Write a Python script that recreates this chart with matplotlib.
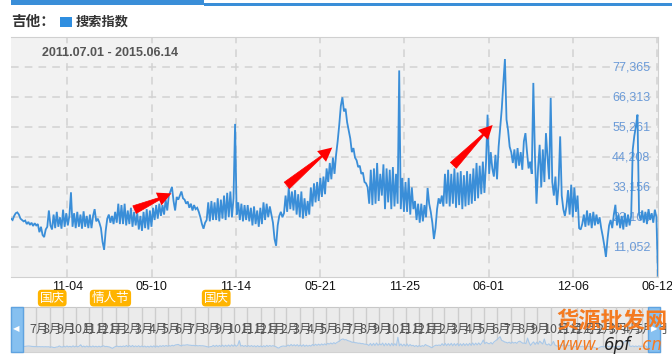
import numpy as np, pandas as pd
import matplotlib; matplotlib.use("Agg")
import matplotlib.pyplot as plt
from matplotlib.patches import Rectangle

W, H = 672, 363
CJK = ["Noto Sans CJK SC", "DejaVu Sans"]
LAT = ["Liberation Sans", "DejaVu Sans"]
BLUE = "#3a8ed8"

# search index for "吉他", 2011.07.01 - 2015.06.14, one value every ~3.5 days (thousands)
start, end = "2011-07-01", "2015-06-14"
idx_k = [
    21.5, 21, 22.5, 23.5, 23.8, 23, 21.5, 21, 20.5, 20.8,
    19.5, 20.3, 19.2, 20, 18.8, 19.8, 19, 19.5, 16.5, 18.5,
    15.5, 14.7, 17.5, 18.5, 24.5, 19, 17.5, 23, 18, 24,
    18.5, 22, 17.8, 24.8, 18.5, 23.5, 19, 22.5, 31.2, 18.5,
    23.5, 18, 24, 18.5, 23, 17.8, 24.2, 18.5, 22.5, 18,
    23, 18, 22.5, 25, 20.5, 21.5, 20, 18, 13, 10,
    17, 21.5, 23, 20, 22.5, 19.5, 24, 20, 27, 19.5,
    26.5, 19.5, 27, 19, 24.5, 19.5, 25.5, 18.5, 24, 19,
    23.5, 17.5, 22.5, 17, 24, 18, 25, 17.5, 24.5, 18.5,
    25.5, 21, 26.5, 21.5, 27, 22.5, 26.5, 23, 28.5, 24.5,
    30, 31.5, 33.2, 28, 24.5, 29.5, 28.5, 30, 31.5, 29,
    28.5, 27, 27.8, 25.5, 27, 24.5, 26.5, 25, 25.5, 24,
    22, 19.5, 17.8, 20, 21, 27.5, 20.5, 28, 21, 27.5,
    21, 29, 20.5, 28.5, 21.5, 30, 21, 31, 22, 31.5,
    22, 29, 56.4, 23, 27.5, 21, 27, 20.5, 26.5, 21,
    26.5, 20.5, 25.5, 19, 26, 19.5, 24.5, 18.5, 25.5, 19.5,
    27.5, 21, 27, 22, 26, 23, 20, 14, 11.5, 19,
    22.5, 24, 22, 23.5, 30, 24, 33, 25, 31.5, 24.5,
    32, 23, 30.5, 22, 31.5, 21.5, 29, 22.5, 28, 23,
    33, 26, 34.5, 27.5, 35, 28, 36.5, 29.5, 37, 30.5,
    40, 35, 42, 36, 44, 38, 45, 50, 56, 63,
    66.2, 61, 62, 57, 54, 51, 46, 47.5, 44, 43,
    40.5, 41, 38, 38.5, 35, 34.5, 33, 27, 39.5, 26.5,
    40, 27, 42, 28, 38, 30, 41.5, 25, 40, 27.5,
    39.5, 25, 40.5, 26, 38, 27, 76.1, 25, 36.5, 24,
    35, 24, 36.5, 23, 33, 25, 28, 21, 27, 20,
    27, 20.5, 26.5, 22, 32.8, 27, 24, 20, 14, 18,
    25, 29, 27, 30, 26, 38, 27, 39.5, 26, 38,
    27, 40, 25.5, 38.5, 26.5, 39, 25, 37.5, 26, 39,
    26.5, 38, 27, 40, 28, 42, 29, 41, 30.5, 42.5,
    31, 42, 59.8, 38, 46, 40, 37, 45, 36, 48,
    55, 62, 71.5, 80.3, 58, 54, 48, 46, 42, 47,
    40, 47.5, 41, 46, 39.5, 50, 53, 46, 40, 42.5,
    38, 71.5, 45, 27, 40, 48.7, 33, 47, 35, 53,
    44, 36, 66, 35, 30, 37, 26.5, 34, 51.8, 30,
    25, 22.5, 26, 32, 23, 34, 22, 33, 24, 30,
    18, 17.5, 19.5, 23, 18.5, 24.5, 19, 23.5, 18, 24,
    19, 23, 19.5, 22, 18, 15, 11.5, 7.4, 14, 19,
    21, 18, 23, 26.6, 19, 23, 18, 22.5, 17.5, 23.5,
    18.5, 23, 19, 22.5, 47, 52, 55.5, 59.8, 23, 21,
    24.5, 20, 24, 19.5, 25, 21, 23.5, 20, 24.8, 22,
    0.5,
]
step = 11052.14
ytick_vals = [step * k for k in range(1, 8)]
ytick_labels = ["11,052", "22,104", "33,156", "44,208", "55,261", "66,313", "77,365"]
xtick_dates = ["2011-11-04", "2012-05-10", "2012-11-14", "2013-05-21",
               "2013-11-25", "2014-06-01", "2014-12-06", "2015-06-12"]
xtick_labels = ["11-04", "05-10", "11-14", "05-21", "11-25", "06-01", "12-06", "06-12"]
holidays = [("2011-10-01", "国庆"), ("2012-02-08", "情人节"), ("2012-10-01", "国庆")]
arrows = [(("2012-03-27", 24400), ("2012-06-23", 30800)),
          (("2013-03-03", 33100), ("2013-06-17", 47700)),
          (("2014-03-10", 40400), ("2014-06-10", 56000))]

dates = pd.date_range(start, end, periods=len(idx_k))
vals = np.array(idx_k) * 1000
months = pd.date_range("2011-07-01", "2015-06-01", freq="MS")

def fx(x): return x / W
def fy(y): return 1 - y / H

fig = plt.figure(figsize=(W / 100, H / 100), dpi=100)
fig.patch.set_facecolor("white")

# header
fig.add_artist(Rectangle((fx(11), fy(5)), fx(193), 5 / H, transform=fig.transFigure, color=BLUE, lw=0))
fig.add_artist(Rectangle((fx(204), fy(5.5)), fx(468), 2 / H, transform=fig.transFigure, color=BLUE, lw=0))
fig.text(fx(11), fy(21), "吉他：", family=CJK, fontsize=10.5, weight="bold", color="#333333", va="center")
fig.add_artist(Rectangle((fx(60), fy(26.7)), fx(11.7), 10 / H, transform=fig.transFigure, color="#2f8ee0", lw=0))
fig.text(fx(76), fy(21.5), "搜索指数", family=CJK, fontsize=9.5, weight="bold", color="#333333", va="center")

# main chart
ax = fig.add_axes([fx(11), fy(277), fx(647), 240 / H])
ax.set_facecolor("#f2f2f2")
ax.plot(dates, vals, color=BLUE, lw=1.3, zorder=3, solid_joinstyle="miter")
ax.set_xlim(pd.Timestamp(start), pd.Timestamp(end))
ax.set_ylim(0, step * 8)
ax.set_yticks(ytick_vals)
ax.set_yticklabels([])
ax.tick_params(axis="y", length=0)
ax.set_xticks(pd.to_datetime(xtick_dates))
ax.set_xticklabels(xtick_labels, family=LAT, fontsize=9, color="#111111")
ax.tick_params(axis="x", length=0, pad=3)
ax.grid(True, color="#d2d2d2", lw=1.1, ls=(0, (5, 4)), zorder=0)
ax.spines["left"].set_visible(False)
for s in ["top", "right", "bottom"]:
    ax.spines[s].set_color("#d0d0d0")
for v, lab in zip(ytick_vals, ytick_labels):
    ax.text(0.988, v, lab, transform=ax.get_yaxis_transform(), ha="right", va="center",
            family=LAT, fontsize=9, color="#6b9bd8", zorder=2)
ax.text(0.048, 0.935, "2011.07.01 - 2015.06.14", transform=ax.transAxes, family=LAT,
        fontsize=9, weight="bold", color="#555555", va="center")
for (d0, v0), (d1, v1) in arrows:
    ax.annotate("", xy=(pd.Timestamp(d1), v1), xytext=(pd.Timestamp(d0), v0),
                arrowprops=dict(arrowstyle="wedge,tail_width=0.6,shrink_factor=0.5",
                                fc="#ff0000", ec="#ff0000", lw=0.5), zorder=4)
    ax.annotate("", xy=(pd.Timestamp(d1), v1), xytext=(pd.Timestamp(d0), v0),
                arrowprops=dict(arrowstyle="simple,head_width=1.0,head_length=1.0,tail_width=0.01",
                                fc="#ff0000", ec="none", shrinkA=0, shrinkB=0), zorder=4)
for d, lab in holidays:
    ax.text(pd.Timestamp(d), -0.088, lab, transform=ax.get_xaxis_transform(), ha="center", va="center",
            family=CJK, fontsize=9, color="white",
            bbox=dict(boxstyle="round,pad=0.15,rounding_size=0.3", fc="#ffb400", ec="none"))

# range slider
sbg = fig.add_axes([fx(11), fy(352), fx(649), 45 / H])
sbg.set_facecolor("#ebebeb")
sbg.set_xticks([]); sbg.set_yticks([])
for s in sbg.spines.values():
    s.set_color("#c8c8c8")
sl = fig.add_axes([fx(22.7), fy(352), fx(625.3), 45 / H])
sl.patch.set_alpha(0)
sl.set_xlim(pd.Timestamp(start), pd.Timestamp(end))
sl.set_ylim(-12000, 258000)
sl.axis("off")
for m in months:
    sl.axvline(m, color="#cdcdcd", lw=1, zorder=1)
    sl.text(m + pd.Timedelta(days=15), 0.5, f"{m.month}月", transform=sl.get_xaxis_transform(),
            family=CJK, fontsize=9, color="#555555", va="center", ha="left", zorder=2)
sl.fill_between(dates, vals, -12000, color="#dcdcdc", lw=0, zorder=1.5)
sl.plot(dates, vals, color="#a9c8e8", lw=0.8, zorder=3)
for x0 in (11, 648):
    fig.add_artist(Rectangle((fx(x0), fy(352)), fx(12), 45 / H, transform=fig.transFigure,
                             fc="#86c0f0", ec="#5fa3e0", lw=1))
fig.text(fx(16.5), fy(329), "◀", fontsize=6, color="white", ha="center", va="center")
fig.text(fx(654), fy(329), "▶", fontsize=6, color="white", ha="center", va="center")

# watermark
fig.text(fx(612), fy(321), "货源批发网", family=CJK, fontsize=16, color="#f47a20",
         ha="center", va="center", style="italic", weight="bold")
fig.text(fx(556), fy(345), "www.", family=["DejaVu Sans"], fontsize=12, color="#f47a20",
         va="center", style="italic")
fig.text(fx(604), fy(345), "6pf", family=["DejaVu Sans"], fontsize=12, color="#222222",
         va="center", style="italic")
fig.text(fx(637), fy(345), ".cn", family=["DejaVu Sans"], fontsize=12, color="#f47a20",
         va="center", style="italic")

fig.savefig("out.png", dpi=100)
